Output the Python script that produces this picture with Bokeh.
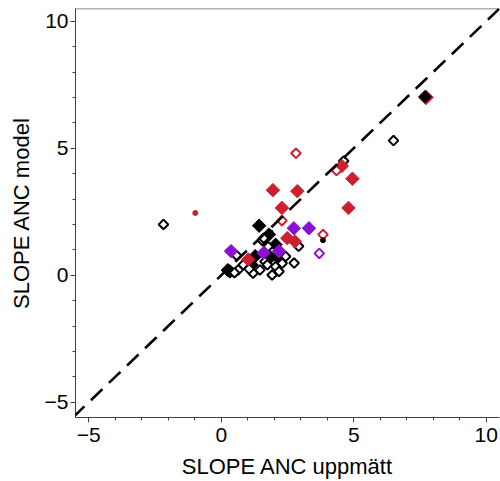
from bokeh.plotting import figure
from bokeh.models import Range1d, FixedTicker, Slope, Span
from bokeh.embed import file_html
from bokeh.resources import INLINE
import math

# ---- data ----
black_fill_x = [7.70, 1.43, 1.80, 2.05, 0.33, 1.28, 2.11, 1.14, 1.85, 0.25]
black_fill_y = [7.02, 1.95, 1.60, 1.20, 0.15, 0.75, 0.74, 0.41, 0.71, 0.20]

red_fill_x = [7.72, 1.95, 2.87, 2.29, 4.55, 4.95, 4.80, 1.02, 2.49, 2.78]
red_fill_y = [7.00, 3.35, 3.31, 2.65, 4.30, 3.80, 2.65, 0.62, 1.46, 1.33]

purple_fill_x = [0.37, 1.60, 2.74, 3.31, 2.18]
purple_fill_y = [0.95, 0.88, 1.85, 1.85, 0.95]

black_open_x = [6.50, 4.62, -2.18, 2.92, 2.75, 0.58, 0.83, 1.20, 1.46, 1.65, 0.64,
                1.55, 1.60, 1.77, 2.43, 2.30, 2.05, 2.18, 1.92, 1.74, 0.50, 1.05]
black_open_y = [5.30, 4.50, 2.00, 1.14, 0.48, 0.78, 0.41, 0.08, 0.21, 0.54, 0.21,
                1.37, 1.46, 1.13, 0.74, 0.47, 0.34, 0.15, 0.01, 0.41, 0.10, 0.25]

red_open_x = [2.82, 4.35, 2.29, 3.84]
red_open_y = [4.80, 4.12, 2.15, 1.60]

purple_open_x = [3.70]
purple_open_y = [0.86]

red_dot_x = [-0.98]
red_dot_y = [2.45]
black_dot_x = [3.84, 1.87]
black_dot_y = [1.38, 1.68]

x_ticks = [-5, 0, 5, 10]
y_ticks = [-5, 0, 5, 10]
minor = list(range(-5, 11))

RED = "#cc1f2f"
PURPLE = "#8c10d4"
FONT = "Liberation Sans"

p = figure(width=500, height=481, output_backend="svg", toolbar_location=None,
           x_range=Range1d(-5.5, 10.5), y_range=Range1d(-5.6, 10.5),
           min_border_left=75, min_border_right=1, min_border_top=8,
           min_border_bottom=64)
p.outline_line_color = None
p.xgrid.visible = False
p.ygrid.visible = False
p.background_fill_color = "white"
p.border_fill_color = "white"

for ax in (p.xaxis[0], p.yaxis[0]):
    ax.axis_line_color = "#404040"
    ax.axis_line_width = 1
    ax.major_tick_line_color = "#404040"
    ax.minor_tick_line_color = "#404040"
    ax.major_tick_in = 0
    ax.major_tick_out = 5
    ax.minor_tick_in = 0
    ax.minor_tick_out = 3
    ax.major_label_text_font = FONT
    ax.major_label_text_font_size = "21px"
    ax.major_label_text_color = "black"
    ax.axis_label_text_font = FONT
    ax.axis_label_text_font_size = "22px"
    ax.axis_label_text_font_style = "normal"
    ax.axis_label_text_color = "black"

p.xaxis.ticker = FixedTicker(ticks=x_ticks, minor_ticks=minor)
p.yaxis.ticker = FixedTicker(ticks=y_ticks, minor_ticks=minor)
p.xaxis.axis_label = "SLOPE ANC uppmätt"
p.yaxis.axis_label = "SLOPE ANC model"
p.xaxis.major_label_standoff = 5
p.yaxis.major_label_standoff = 2
p.xaxis.axis_label_standoff = 9
p.yaxis.axis_label_standoff = 8

p.add_layout(Span(location=10.5, dimension="width", line_color="#606060", line_width=1.5))
p.add_layout(Slope(gradient=1, y_intercept=0, line_color="black", line_width=2.6,
                   line_dash="16 9"))

ang = math.pi / 4
p.scatter(black_fill_x, black_fill_y, marker="square", angle=ang, size=9.5,
          fill_color="black", line_color="black", line_width=1)
p.scatter(black_open_x, black_open_y, marker="square", angle=ang, size=6.8,
          fill_color="white", line_color="black", line_width=2)
p.scatter(red_fill_x[1:], red_fill_y[1:], marker="square", angle=ang, size=9.5,
          fill_color=RED, line_color=RED, line_width=1)
p.scatter(purple_fill_x, purple_fill_y, marker="square", angle=ang, size=9.5,
          fill_color=PURPLE, line_color=PURPLE, line_width=1)
p.scatter(red_open_x, red_open_y, marker="square", angle=ang, size=6.8,
          fill_color="white", line_color=RED, line_width=2)
p.scatter(purple_open_x, purple_open_y, marker="square", angle=ang, size=6.8,
          fill_color="white", line_color=PURPLE, line_width=2)
p.scatter(red_fill_x[:1], red_fill_y[:1], marker="square", angle=ang, size=10.5,
          fill_color=RED, line_color=RED, line_width=1)
p.scatter(black_fill_x[:1], black_fill_y[:1], marker="square", angle=ang, size=8.5,
          fill_color="black", line_color="black", line_width=1)
p.scatter(red_dot_x, red_dot_y, marker="circle", size=5, fill_color=RED, line_color=RED)
p.scatter(black_dot_x, black_dot_y, marker="circle", size=5, fill_color="black",
          line_color="black")

open("out.html", "w").write(file_html(p, INLINE))
